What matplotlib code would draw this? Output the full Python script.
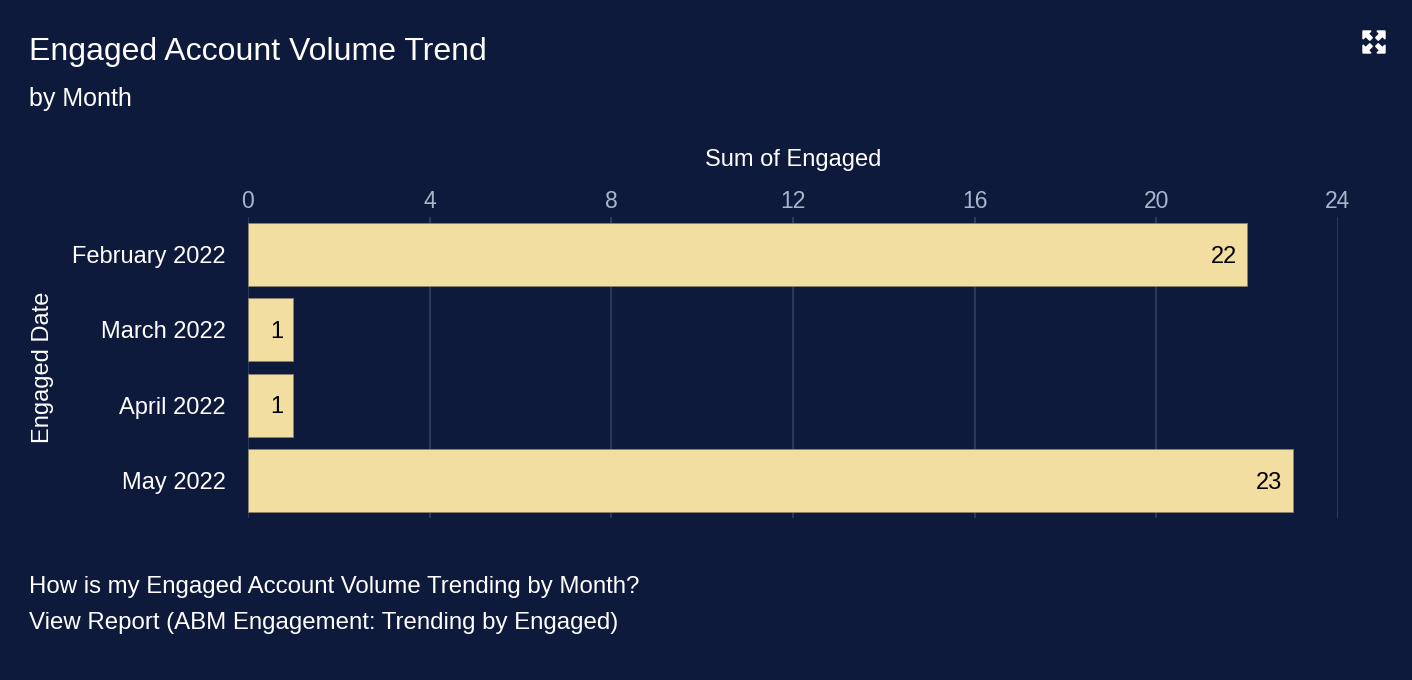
import matplotlib.pyplot as plt
from matplotlib.patches import Polygon

months = ["February 2022", "March 2022", "April 2022", "May 2022"]
engaged = [22, 1, 1, 23]
xticks = [0, 4, 8, 12, 16, 20, 24]

bg = "#0e1a3c"
bar_color = "#f2dea0"
tick_color = "#a9b5cc"
grid_color = "#2a3859"

plt.rcParams["font.family"] = ["Liberation Sans", "DejaVu Sans"]

W, H = 1412, 680
fig = plt.figure(figsize=(W / 100, H / 100), dpi=100, facecolor=bg)
ax = fig.add_axes([248 / W, 1 - 518 / H, 1090 / W, 301 / H])
ax.set_facecolor(bg)

pos = list(range(len(months)))
bars = ax.barh(pos, engaged, height=0.84, color=bar_color,
               edgecolor="#8a826a", linewidth=0.6, zorder=3)
for b, v in zip(bars, engaged):
    ax.text(b.get_width() - 0.22, b.get_y() + b.get_height() / 2 + 0.03, str(v),
            ha="right", va="center", fontsize=17, color="black", zorder=4)

ax.set_xlim(0, 24)
ax.set_ylim(len(months) - 0.5, -0.5)
ax.set_xticks(xticks)
ax.set_yticks(pos)
ax.set_yticklabels(months)
ax.xaxis.tick_top()
ax.xaxis.set_label_position("top")
ax.tick_params(axis="x", colors=tick_color, labelsize=16.5, length=0, pad=3)
ax.tick_params(axis="y", colors="white", labelsize=17, length=0, pad=16)
ax.grid(axis="x", color=grid_color, linewidth=1.5, zorder=0)
for s in ax.spines.values():
    s.set_visible(False)
ax.set_xlabel("Sum of Engaged", color="white", fontsize=17, labelpad=17)
ax.set_ylabel("Engaged Date", color="white", fontsize=17, labelpad=13)

fig.text(29 / W, 1 - 52 / H, "Engaged Account Volume Trend",
         color="white", fontsize=23, va="center", ha="left")
fig.text(29 / W, 1 - 99 / H, "by Month",
         color="white", fontsize=18, va="center", ha="left")
fig.text(29 / W, 1 - 587 / H, "How is my Engaged Account Volume Trending by Month?",
         color="white", fontsize=17.3, va="center", ha="left")
fig.text(29 / W, 1 - 623 / H, "View Report (ABM Engagement: Trending by Engaged)",
         color="white", fontsize=17.3, va="center", ha="left")


def fp(x, y):
    return (x / W, 1 - y / H)


# expand icon in the corner
cx, cy = 1374, 42
for sx in (-1, 1):
    for sy in (-1, 1):
        kx, ky = cx + sx * 11, cy + sy * 11
        tri = [fp(kx, ky), fp(kx - sx * 8, ky), fp(kx, ky - sy * 8)]
        fig.add_artist(Polygon(tri, closed=True, color="white",
                               transform=fig.transFigure))
        stem = [fp(cx + sx * 3 - sx * 1.3, cy + sy * 3 + sy * 1.3),
                fp(cx + sx * 3 + sx * 1.3, cy + sy * 3 - sy * 1.3),
                fp(kx - sx * 4 + sx * 1.3, ky - sy * 4 - sy * 1.3),
                fp(kx - sx * 4 - sx * 1.3, ky - sy * 4 + sy * 1.3)]
        fig.add_artist(Polygon(stem, closed=True, color="white",
                               transform=fig.transFigure))

fig.savefig("out.png", facecolor=bg)
